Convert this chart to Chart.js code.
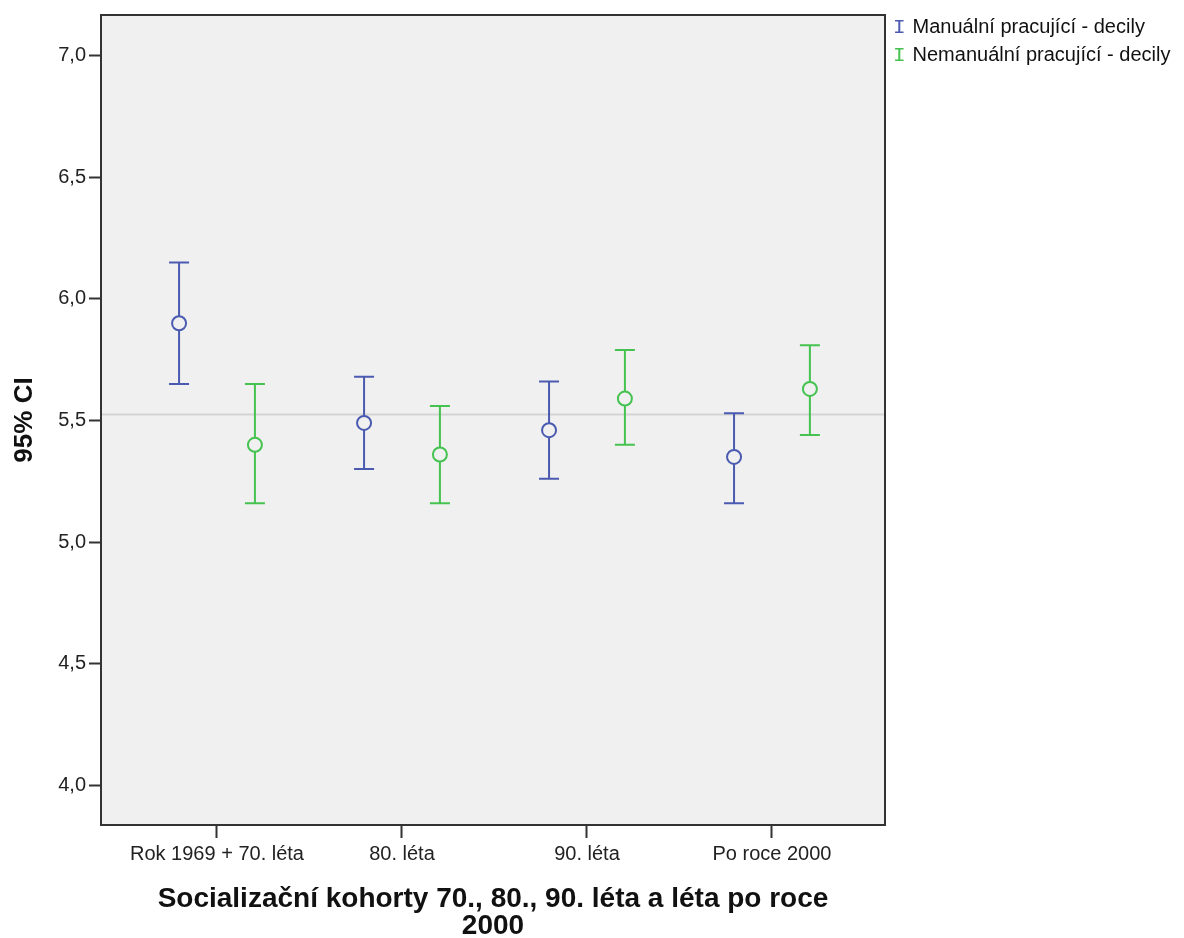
<!DOCTYPE html>
<html>
<head>
<meta charset="utf-8">
<script src="https://cdn.jsdelivr.net/npm/chart.js@4"></script>
<style>
  body { margin: 0; background: #fff; }
  #wrap { position: relative; width: 1184px; height: 938px; }
  .legend { position: absolute; left: 893px; top: 13px; font: 20px "Liberation Sans", Arial, sans-serif; color: #111; line-height: 26px; }
  .legend .ic { display: inline-block; width: 14px; font-family: "Liberation Mono", "DejaVu Sans Mono", monospace; font-size: 21px; }
</style>
</head>
<body>
<div id="wrap">
  <canvas id="ciChart" width="1184" height="938"></canvas>
  <div class="legend">
    <div><span class="ic" style="color:#4a5ab0">I</span> Manuální pracující - decily</div>
    <div><span class="ic" style="color:#45c24f">I</span> Nemanuální pracující - decily</div>
  </div>
</div>
<script>
// --- dados ---
const categories = ['Rok 1969 + 70. léta', '80. léta', '90. léta', 'Po roce 2000'];
const manualMean = [5.90, 5.49, 5.46, 5.35];
const manualLow  = [5.65, 5.30, 5.26, 5.16];
const manualHigh = [6.15, 5.68, 5.66, 5.53];
const nonManualMean = [5.40, 5.36, 5.59, 5.63];
const nonManualLow  = [5.16, 5.16, 5.40, 5.44];
const nonManualHigh = [5.65, 5.56, 5.79, 5.81];
const yTicks = [4.0, 4.5, 5.0, 5.5, 6.0, 6.5, 7.0];
const referenceValue = 5.525;

const BLUE = '#4a5ab0';
const GREEN = '#45c24f';
const shift = 0.205; // deslocamento dos grupos dentro da categoria

function makeSeries(means, lows, highs, dir) {
    return means.map((m, i) => ({ x: i + dir * shift, y: m, low: lows[i], high: highs[i] }));
}

// plugin: fundo, linha de referência, barras de erro e moldura
const ciPlugin = {
    id: 'ciPlugin',
    beforeDraw(chart) {
        const { ctx, chartArea: a } = chart;
        ctx.save();
        ctx.fillStyle = '#f0f0f0';
        ctx.fillRect(a.left, a.top, a.right - a.left, a.bottom - a.top);
        const yr = chart.scales.y.getPixelForValue(referenceValue);
        ctx.strokeStyle = '#d4d4d4';
        ctx.lineWidth = 2;
        ctx.beginPath();
        ctx.moveTo(a.left, yr);
        ctx.lineTo(a.right, yr);
        ctx.stroke();
        ctx.restore();
    },
    beforeDatasetsDraw(chart) {
        const { ctx } = chart;
        const xs = chart.scales.x, ys = chart.scales.y;
        ctx.save();
        ctx.lineWidth = 2;
        chart.data.datasets.forEach(ds => {
            ctx.strokeStyle = ds.borderColor;
            ds.data.forEach(p => {
                const x = xs.getPixelForValue(p.x);
                const y1 = ys.getPixelForValue(p.high);
                const y2 = ys.getPixelForValue(p.low);
                ctx.beginPath();
                ctx.moveTo(x, y1); ctx.lineTo(x, y2);
                ctx.moveTo(x - 10, y1); ctx.lineTo(x + 10, y1);
                ctx.moveTo(x - 10, y2); ctx.lineTo(x + 10, y2);
                ctx.stroke();
            });
        });
        ctx.restore();
    },
    afterDraw(chart) {
        const { ctx, chartArea: a } = chart;
        ctx.save();
        ctx.strokeStyle = '#333';
        ctx.lineWidth = 2;
        ctx.strokeRect(a.left, a.top, a.right - a.left, a.bottom - a.top);
        ctx.restore();
    }
};

const ctx = document.getElementById('ciChart').getContext('2d');
const tickFont = { family: '"Liberation Sans", Arial, sans-serif', size: 20 };

const ciChart = new Chart(ctx, {
    type: 'scatter',
    data: {
        datasets: [{
            label: 'Manuální pracující - decily',
            data: makeSeries(manualMean, manualLow, manualHigh, -1),
            borderColor: BLUE,
            backgroundColor: '#f0f0f0',
            borderWidth: 2,
            pointRadius: 7,
            pointHoverRadius: 7
        }, {
            label: 'Nemanuální pracující - decily',
            data: makeSeries(nonManualMean, nonManualLow, nonManualHigh, 1),
            borderColor: GREEN,
            backgroundColor: '#f0f0f0',
            borderWidth: 2,
            pointRadius: 7,
            pointHoverRadius: 7
        }]
    },
    options: {
        responsive: false,
        animation: false,
        layout: { padding: { top: 11, right: 299, left: 0, bottom: 0 } },
        scales: {
            x: {
                type: 'linear',
                min: -0.627,
                max: 3.611,
                afterBuildTicks: s => { s.ticks = categories.map((c, i) => ({ value: i })); },
                afterFit: s => { s.height = 113; },
                ticks: {
                    font: tickFont,
                    color: '#222',
                    padding: 4,
                    maxRotation: 0,
                    autoSkip: false,
                    callback: v => categories[v]
                },
                grid: { drawOnChartArea: false, drawTicks: true, tickLength: 13, tickColor: '#333', tickWidth: 2 },
                border: { display: false },
                title: {
                    display: true,
                    text: ['Socializační kohorty 70., 80., 90. léta a léta po roce', '2000'],
                    font: { family: '"Liberation Sans", Arial, sans-serif', size: 28, weight: 'bold', lineHeight: '27px' },
                    color: '#111',
                    padding: { top: 0, bottom: -2 }
                }
            },
            y: {
                min: 3.836,
                max: 7.168,
                afterBuildTicks: s => { s.ticks = yTicks.map(v => ({ value: v })); },
                afterFit: s => { s.width = 101; },
                ticks: {
                    font: tickFont,
                    color: '#222',
                    padding: 3,
                    callback: v => v.toFixed(1).replace('.', ',')
                },
                grid: { drawOnChartArea: false, drawTicks: true, tickLength: 12, tickColor: '#333', tickWidth: 2 },
                border: { display: false },
                title: {
                    display: true,
                    text: '95% CI',
                    font: { family: '"Liberation Sans", Arial, sans-serif', size: 26, weight: 'bold', lineHeight: 1.2 },
                    color: '#111',
                    padding: { top: 9, bottom: 0 }
                }
            }
        },
        plugins: {
            legend: { display: false },
            tooltip: { enabled: false }
        }
    },
    plugins: [ciPlugin]
});
</script>
</body>
</html>
